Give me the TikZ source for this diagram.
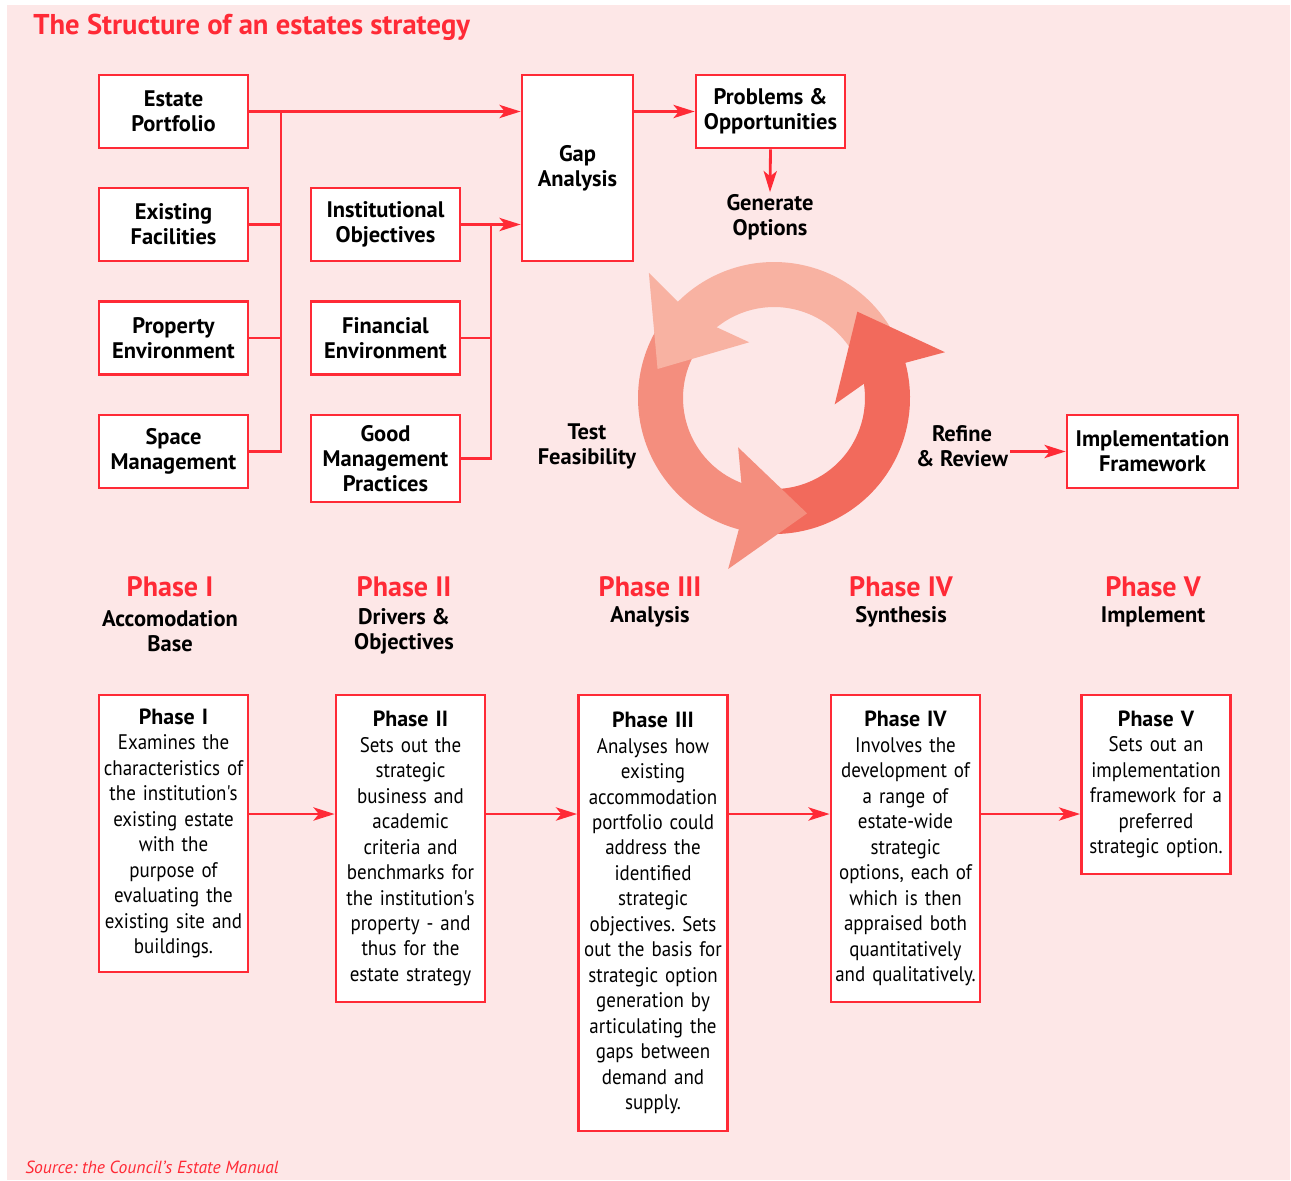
\documentclass[tikz,border=0pt]{standalone}
\usepackage{fontspec}
\setmainfont{PT Sans}
\newfontfamily\narrowfont{PT Sans}[FakeStretch=0.9]
\usetikzlibrary{arrows.meta,positioning}
\frenchspacing

\definecolor{bgPink}{HTML}{FDE7E7}
\definecolor{boxRed}{HTML}{FF2A36}
\definecolor{ringLight}{HTML}{F8B2A2}
\definecolor{ringMid}{HTML}{F48E7E}
\definecolor{ringDark}{HTML}{F26A5C}

\newcommand{\boxtextfont}{\bfseries\fontsize{12.8}{14.2}\selectfont}
\newcommand{\cardtextfont}{\narrowfont\fontsize{12}{14.5}\selectfont}
\newcommand{\cardtitle}[1]{{\rmfamily\bfseries\fontsize{12.5}{14.5}\selectfont #1}}
\newcommand{\phasetitlefont}{\bfseries\fontsize{16}{18}\selectfont}

% ring pieces: colour, start angle, tip angle
\newcommand{\ringband}[3]{\fill[#1] (#2:136) arc[start angle=#2, end angle=#3-28, radius=136]
    -- (#3-28:91) arc[start angle=#3-28, end angle=#2, radius=91] -- cycle;}
\newcommand{\ringhead}[2]{\fill[#1] (#2-31:136) -- (#2-31:177) -- (#2:120) -- (#2-52:61) -- (#2-37:91) -- cycle;}

\begin{document}
\begin{tikzpicture}[
    x=0.02cm, y=-0.02cm,
    labelBox/.style={
        rectangle, draw=boxRed, fill=white, line width=1.6pt,
        minimum width=2.98cm, minimum height=1.46cm,
        inner sep=2pt, align=center, font=\boxtextfont
    },
    phaseCard/.style={
        rectangle, draw=boxRed, fill=white, line width=1.6pt,
        minimum width=2.98cm, text width=2.9cm, inner sep=0pt,
        align=center, font=\cardtextfont
    },
    plainText/.style={inner sep=1pt, align=center, font=\boxtextfont},
    phaseHead/.style={inner sep=1pt, text=boxRed, font=\phasetitlefont},
    link/.style={draw=boxRed, line width=1.6pt},
    flow/.style={link, -{Stealth[length=12pt, width=7.5pt, inset=3pt]}}
]
    \useasboundingbox (0,0) rectangle (1291,1180);
    \fill[bgPink] (7,5) rectangle (1290,1180);

    \node[anchor=west, inner sep=0pt, text=boxRed, font=\bfseries\fontsize{16.3}{19}\selectfont]
        (title) at (33,27) {The Structure of an estates strategy};

    % --- Phase I inputs ---
    \node[labelBox] (portfolio)  at (173.5,111.5) {Estate\\Portfolio};
    \node[labelBox] (facilities) at (173.5,224.5) {Existing\\Facilities};
    \node[labelBox] (propEnv)    at (173.5,338)   {Property\\Environment};
    \node[labelBox] (space)      at (173.5,451.5) {Space\\Management};

    % --- Phase II inputs ---
    \node[labelBox] (objectives) at (385.5,224.5) {Institutional\\Objectives};
    \node[labelBox] (financial)  at (385.5,338)   {Financial\\Environment};
    \node[labelBox, minimum height=1.74cm] (practices) at (385.5,458.5) {Good\\Management\\Practices};

    % --- Analysis ---
    \node[labelBox, minimum width=2.22cm, minimum height=3.72cm] (gap) at (577.5,168) {Gap\\Analysis};
    \node[labelBox] (problems) at (770.5,111.5) {Problems \&\\Opportunities};
    \node[plainText] (options) at (770,217) {Generate\\Options};
    \node[plainText] (feasibility) at (587,446) {Test\\Feasibility};
    \node[plainText] (refine) at (962,446) {Refine\\\& Review};
    \node[labelBox, minimum width=3.42cm] (framework) at (1152.5,451.5) {Implementation\\Framework};

    % buses and arrows
    \coordinate (busL) at (281,111.5);
    \coordinate (busR) at (491,224.5);
    \draw[flow] (portfolio.east) -- (portfolio.east -| gap.west);
    \draw[link] (busL) |- (space.east);
    \draw[link] (facilities.east) -- (facilities.east -| busL);
    \draw[link] (propEnv.east) -- (propEnv.east -| busL);
    \draw[flow] (objectives.east) -- (objectives.east -| gap.west);
    \draw[link] (busR) |- (practices.east);
    \draw[link] (financial.east) -- (financial.east -| busR);
    \draw[flow] (problems.west -| gap.east) -- (problems.west);
    \draw[flow] (problems.south) -- (options.north);
    \draw[flow] (refine.east |- framework.west) -- (framework.west);

    % --- the cycle ---
    \begin{scope}[shift={(774,398)}, yscale=-1]
        \ringband{ringLight}{28}{166}
        \ringband{ringMid}{148}{286}
        \ringband{ringDark}{-92}{46}
        \ringhead{ringLight}{166}
        \ringhead{ringMid}{286}
        \ringhead{ringDark}{46}
    \end{scope}

    % --- phase headings ---
    \node[phaseHead] (head1) at (170,587)  {Phase I};
    \node[phaseHead] (head2) at (404,587)  {Phase II};
    \node[phaseHead] (head3) at (650,587)  {Phase III};
    \node[phaseHead] (head4) at (901,587)  {Phase IV};
    \node[phaseHead] (head5) at (1153,587) {Phase V};
    \node[plainText] (sub1) at (170,631)  {Accomodation\\Base};
    \node[plainText] (sub2) at (404,631)  {Drivers \&\\Objectives};
    \node[plainText] (sub3) at (650,617)  {Analysis};
    \node[plainText] (sub4) at (901,617)  {Synthesis};
    \node[plainText] (sub5) at (1153,617) {Implement};

    % --- phase descriptions ---
    \node[phaseCard, minimum height=5.54cm] (card1) at (173.5,833.5) {
        \cardtitle{Phase I}\\Examines the\\characteristics of\\the institution's\\existing estate\\with the\\purpose of\\evaluating the\\existing site and\\buildings.};
    \node[phaseCard, minimum height=6.14cm] (card2) at (410.5,848.5) {
        \cardtitle{Phase II}\\Sets out the\\strategic\\business and\\academic\\criteria and\\benchmarks for\\the institution's\\property - and\\thus for the\\estate strategy};
    \node[phaseCard, minimum height=8.72cm] (card3) at (653,913) {
        \cardtitle{Phase III}\\Analyses how\\existing\\accommodation\\portfolio could\\address the\\identified\\strategic\\objectives. Sets\\out the basis for\\strategic option\\generation by\\articulating the\\gaps between\\demand and\\supply.};
    \node[phaseCard, minimum height=6.14cm] (card4) at (905.5,848.5) {
        \cardtitle{Phase IV}\\Involves the\\development of\\a range of\\estate-wide\\strategic\\options, each of\\which is then\\appraised both\\quantitatively\\and qualitatively.};
    \node[phaseCard, minimum height=3.58cm] (card5) at (1156,784.5) {
        \cardtitle{Phase V}\\Sets out an\\implementation\\framework for a\\preferred\\strategic option.};

    \coordinate (arrowRow) at (0,814);
    \draw[flow] (card1.east |- arrowRow) -- (card2.west |- arrowRow);
    \draw[flow] (card2.east |- arrowRow) -- (card3.west |- arrowRow);
    \draw[flow] (card3.east |- arrowRow) -- (card4.west |- arrowRow);
    \draw[flow] (card4.east |- arrowRow) -- (card5.west |- arrowRow);

    \node[anchor=west, inner sep=0pt, text=boxRed, font=\itshape\fontsize{10}{12}\selectfont]
        (source) at (25,1167) {Source: the Council's Estate Manual};
\end{tikzpicture}
\end{document}
